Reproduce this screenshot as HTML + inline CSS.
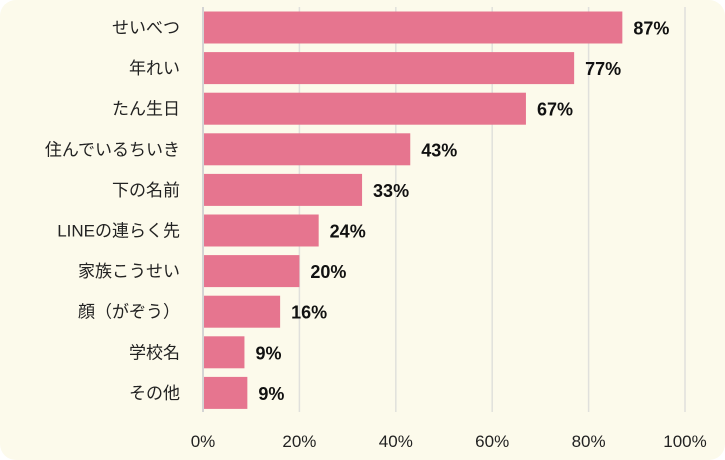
<!DOCTYPE html>
<html><head><meta charset="utf-8"><style>
html,body{margin:0;padding:0;background:#fff;}
#wrap{width:725px;height:460px;background:#FCFAEB;border-radius:16px;position:relative;overflow:hidden;}
svg{position:absolute;left:0;top:0;font-family:"Liberation Sans","Noto Sans CJK JP",sans-serif;}
</style></head><body>
<div id="wrap">
<svg id="chart" width="725" height="460"></svg>
</div>
<script>
const categories = ["せいべつ","年れい","たん生日","住んでいるちいき","下の名前","LINEの連らく先","家族こうせい","顔（がぞう）","学校名","その他"];
const values = [87,77,67,43,33,24,20,16,8.6,9.2];
const valueLabels = ["87%","77%","67%","43%","33%","24%","20%","16%","9%","9%"];
const ticks = [0,20,40,60,80,100];
const tickLabels = ["0%","20%","40%","60%","80%","100%"];

const NS="http://www.w3.org/2000/svg";
const svg=document.getElementById('chart');
const x0=203,x1=685,top0=11.5,pitch=40.6,bh=32,gTop=7,gBot=412;
const xs=v=>x0+(x1-x0)*v/100;
const yRow=i=>top0+i*pitch;
function mk(t,a){const e=document.createElementNS(NS,t);for(const k in a)e.setAttribute(k,a[k]);svg.appendChild(e);return e;}
ticks.forEach((t,i)=>{
  const l=mk('line',{x1:xs(t),x2:xs(t),y1:gTop,y2:gBot,stroke:t===0?'#d4d4d4':'#e0e0dc','stroke-width':t===0?2:1.5});
  
  
  const tx=mk('text',{x:xs(t),y:447,'text-anchor':'middle','font-size':17,fill:'#222'});
  tx.textContent=tickLabels[i];
  
  
});
categories.forEach((c,i)=>{
  const y=yRow(i);
  const r=mk('rect',{x:x0+1,y:y,width:xs(values[i])-x0-1,height:bh,fill:'#E6758F'});
  
  
  const lb=mk('text',{x:180,y:y+bh/2+6,'text-anchor':'end','font-size':17,fill:'#222'});
  lb.textContent=c;
  
  
  const vl=mk('text',{x:xs(values[i])+11,y:y+bh/2+7,'font-size':18,'font-weight':'bold',fill:'#111'});
  vl.textContent=valueLabels[i];
  
  
});
</script>
</body></html>
